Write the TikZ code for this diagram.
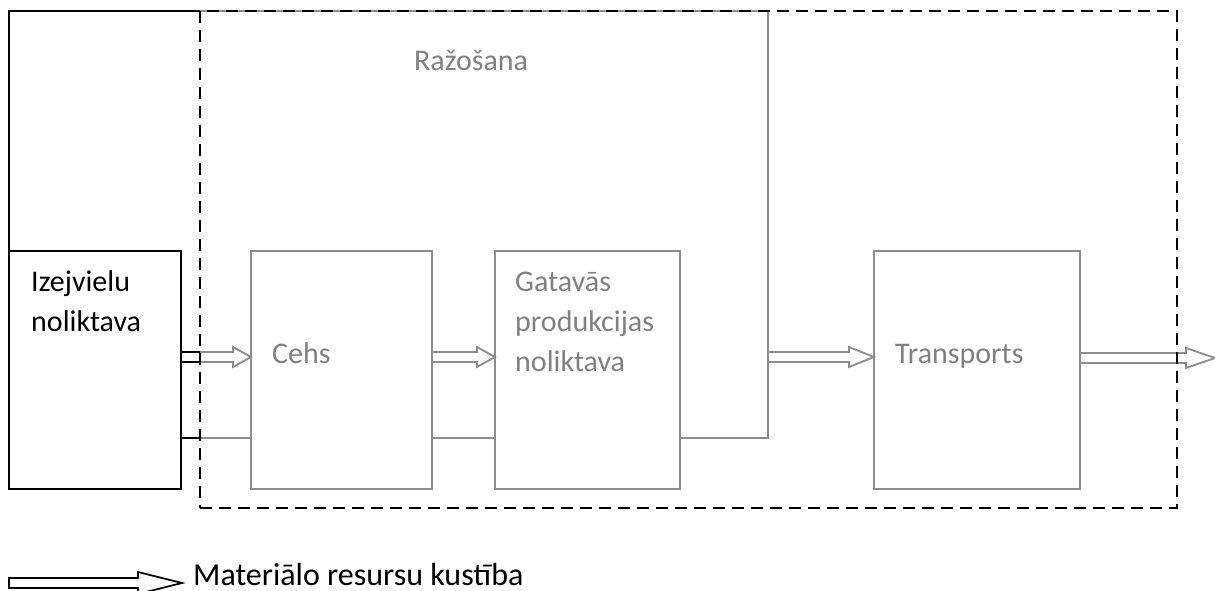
\documentclass[tikz,border=0pt]{standalone}
\usepackage{fontspec}
\setmainfont{Carlito}
\usetikzlibrary{calc}
\definecolor{linegray}{RGB}{140,140,140}
\definecolor{textgray}{RGB}{128,128,128}

% hollow block arrow: style, tail point, tip point, head length
\newcommand{\hollowarrow}[4][]{%
  \draw[flow,#1] ($(#2)+(0,-5)$) -- ($(#3)+(-#4,-5)$) -- ($(#3)+(-#4,-10)$) -- (#3)
    -- ($(#3)+(-#4,10)$) -- ($(#3)+(-#4,5)$) -- ($(#2)+(0,5)$);}

\begin{document}
\begin{tikzpicture}[x=1pt,y=-1pt,
  blackbox/.style={draw=black, line width=2pt, inner sep=0pt, outer sep=0pt, minimum height=238pt},
  graybox/.style={draw=linegray, line width=2pt, inner sep=0pt, outer sep=0pt, minimum height=238pt},
  zone/.style={draw=black, line width=2.8pt, dash pattern=on 12pt off 7pt, inner sep=0pt, outer sep=0pt},
  flow/.style={draw=linegray, line width=1.8pt, line join=miter},
  plain/.style={draw=linegray, line width=2pt},
  blackline/.style={draw=black, line width=2pt},
  lbl/.style={font=\fontsize{30}{36}\selectfont, text=textgray, inner sep=0pt},
  blbl/.style={font=\fontsize{30}{36}\selectfont, text=black, inner sep=0pt}]
\path[use as bounding box] (0,0) rectangle (1215,591);

% main boxes
\node[blackbox, minimum width=172pt] (izej) at (95,370) {};
\node[graybox, minimum width=181pt] (cehs) at (341.5,370) {};
\node[graybox, minimum width=185pt] (gat) at (587.5,370) {};
\node[graybox, minimum width=206pt] (trans) at (977,370) {};

% corner points of the return line
\coordinate (tl) at (9,11);
\coordinate (split) at (200,11);
\coordinate (tr) at (768,11);
\coordinate (exit) at (1215,358);

% return line over the top
\draw[plain] (split) -- (tr) -- (tr |- 0,438) -- (gat.east |- 0,438);
\draw[blackline] (izej.north west) -- (tl) -- (split);

% plain links at the bottom
\draw[plain] (izej.east |- 0,438) -- (cehs.west |- 0,438);
\draw[blackline] (izej.east |- 0,438) -- (200,438);
\draw[plain] (cehs.east |- 0,438) -- (gat.west |- 0,438);

% material flow arrows
\hollowarrow{izej.east |- 0,357}{cehs.west |- 0,357}{18}
\draw[blackline, line width=1.8pt] ($(izej.east |- 0,357)+(0,-5)$) -- (200,352)
  ($(izej.east |- 0,357)+(0,5)$) -- (200,362);
\hollowarrow{cehs.east |- 0,357}{gat.west |- 0,357}{18}
\hollowarrow{tr |- 0,357}{trans.west |- 0,357}{25}
\hollowarrow{trans.east |- 0,358}{exit}{29}

% production zone
\node[zone, minimum width=977pt, minimum height=497pt] (zone) at (688.5,259.5) {};

% labels
\node[blbl, anchor=base west] (t1) at (31,291) {Izejvielu};
\node[blbl, anchor=base west] (t2) at (31,331) {noliktava};
\node[lbl, anchor=base west] (tz) at (414,71) {Ražošana};
\node[lbl, anchor=base west] (tc) at (272,363) {Cehs};
\node[lbl, anchor=base west] (tg1) at (515,291) {Gatavās};
\node[lbl, anchor=base west] (tg2) at (515,331) {produkcijas};
\node[lbl, anchor=base west] (tg3) at (515,371) {noliktava};
\node[lbl, anchor=base west] (tt) at (895,363) {Transports};

% legend
\coordinate (leg0) at (9,583);
\coordinate (leg1) at (182,583);
\draw[flow, draw=black, line width=1.8pt] ($(leg0)+(0,-5)$) -- ($(leg1)+(-44,-5)$) -- ($(leg1)+(-44,-11)$) -- (leg1)
  -- ($(leg1)+(-44,11)$) -- ($(leg1)+(-44,5)$) -- ($(leg0)+(0,5)$) -- cycle;
\node[blbl, font=\fontsize{32}{38}\selectfont, anchor=base west] (leg) at (193,585) {Materiālo resursu kustība};
\end{tikzpicture}
\end{document}
